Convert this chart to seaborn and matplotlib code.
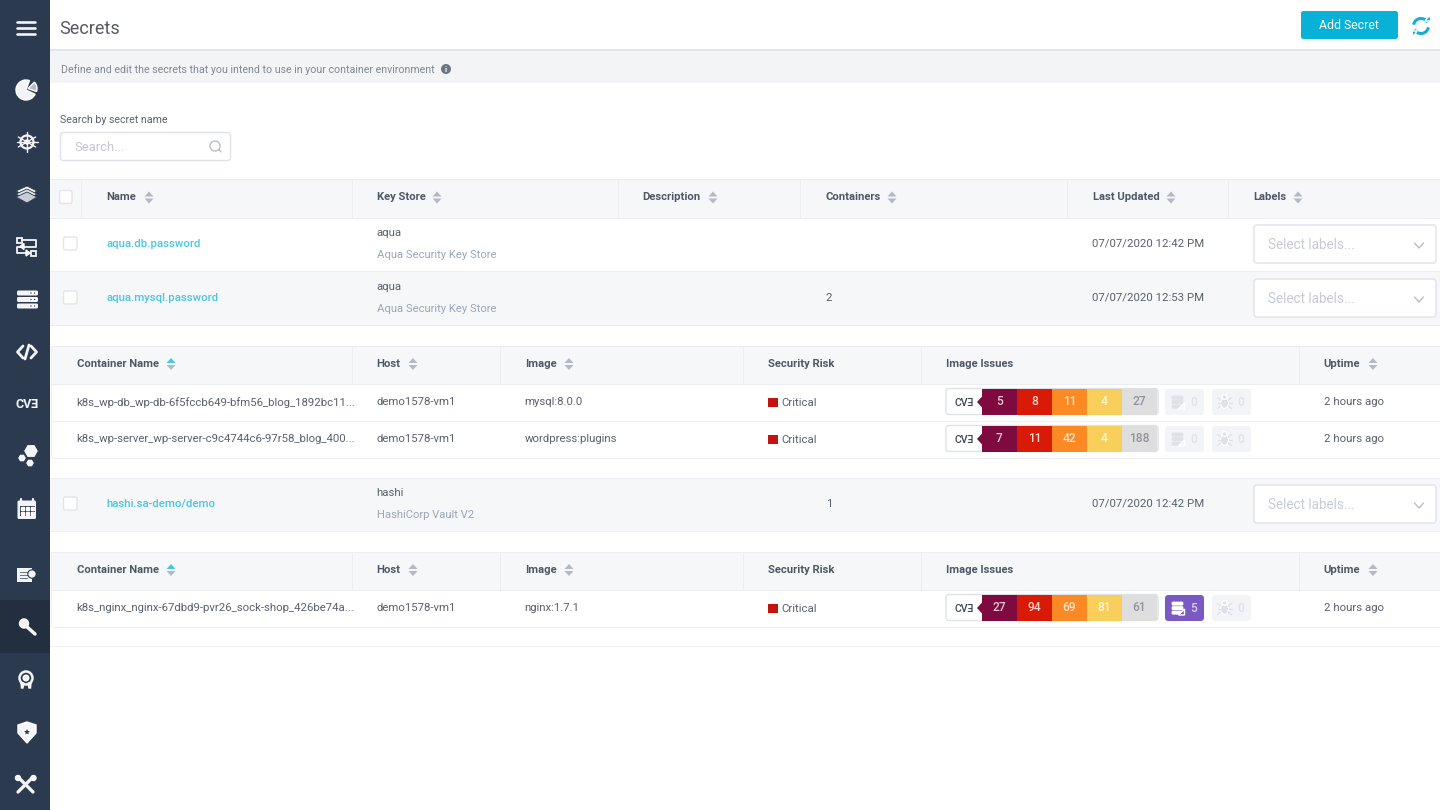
import numpy as np
import pandas as pd
import matplotlib
matplotlib.use("Agg")
import matplotlib.pyplot as plt
from matplotlib.colors import ListedColormap
from matplotlib.patches import FancyBboxPatch, Rectangle, Polygon, Circle, Wedge, Arc, Ellipse
import seaborn as sns

sns.set_theme(style="white")
plt.rcParams["font.family"] = ["Roboto", "DejaVu Sans"]

# ---- content ----
severity_levels = ["Critical", "High", "Medium", "Low", "Negligible"]
severity_colors = ["#7f0a40", "#d91a06", "#fb8a24", "#f8cf5b", "#dedede"]
image_names = ["mysql:8.0.0", "wordpress:plugins", "nginx:1.7.1"]
cve_critical = [5, 7, 27]
cve_high = [8, 11, 94]
cve_medium = [11, 42, 69]
cve_low = [4, 4, 81]
cve_negligible = [27, 188, 61]
malware_counts = [0, 0, 5]
bug_counts = [0, 0, 0]
container_names = ["k8s_wp-db_wp-db-6f5fccb649-bfm56_blog_1892bc11...",
                   "k8s_wp-server_wp-server-c9c4744c6-97r58_blog_400...",
                   "k8s_nginx_nginx-67dbd9-pvr26_sock-shop_426be74a..."]
secret_names = ["aqua.db.password", "aqua.mysql.password", "hashi.sa-demo/demo"]
store_names = ["aqua", "aqua", "hashi"]
store_types = ["Aqua Security Key Store", "Aqua Security Key Store", "HashiCorp Vault V2"]
secret_containers = ["", "2", "1"]
secret_updated = ["07/07/2020 12:42 PM", "07/07/2020 12:53 PM", "07/07/2020 12:42 PM"]
secret_headers = ["Name", "Key Store", "Description", "Containers", "Last Updated", "Labels"]
container_headers = ["Container Name", "Host", "Image", "Security Risk", "Image Issues", "Uptime"]

NAVY = "#2b3a4e"
TEXT = "#59616c"
HEAD = "#4f5866"
MUTED = "#9aa6b8"
CYAN = "#48c6e2"
BAND = "#f6f7f9"
LINE = "#eceef2"
ARROW = "#b4bac4"
BODY = 11.4

fig = plt.figure(figsize=(14.4, 8.1), dpi=100, facecolor="white")
ax = fig.add_axes([0, 0, 1, 1])
ax.set_xlim(0, 1440)
ax.set_ylim(810, 0)
ax.axis("off")


def rect(x0, y0, x1, y1, fc, ec="none", lw=0, z=1):
    ax.add_patch(Rectangle((x0, y0), x1 - x0, y1 - y0, fc=fc, ec=ec, lw=lw, zorder=z))


def rbox(x0, y0, x1, y1, fc, ec="none", lw=1, r=3, z=2):
    ax.add_patch(FancyBboxPatch((x0 + r, y0 + r), x1 - x0 - 2 * r, y1 - y0 - 2 * r,
                                boxstyle=f"round,pad={r},rounding_size={r}",
                                fc=fc, ec=ec, lw=lw, zorder=z))


def txt(x, y, s, px=BODY, c=TEXT, ha="left", w="normal", z=6):
    ax.text(x - 0.6, y + 0.7, s, fontsize=px * 0.72, color=c, ha=ha, va="center",
            fontweight=w, zorder=z, clip_on=False)


def sort_arrows(x, y, active=False):
    up = CYAN if active else ARROW
    ax.add_patch(Polygon([(x - 4.5, y - 1), (x + 4.5, y - 1), (x, y - 6)], fc=up, ec="none", zorder=5))
    ax.add_patch(Polygon([(x - 4.5, y + 1), (x + 4.5, y + 1), (x, y + 6)], fc=ARROW, ec="none", zorder=5))


def chevron(x, y):
    ax.plot([x - 4.5, x, x + 4.5], [y - 2.5, y + 2.5, y - 2.5], color="#b8bec8", lw=1, zorder=5)


# ---- top bar and intro ----
rect(50, 49, 1440, 51, "#e3e6eb")
rect(50, 51, 1440, 83, "#f3f4f6")
txt(60, 28, "Secrets", 18, "#555b63")
txt(62, 68.5, "Define and edit the secrets that you intend to use in your container environment", 10.6, "#808892")
ax.add_patch(Circle((446, 69), 5, fc="#6d7580", ec="none", zorder=5))
txt(446.6, 68.3, "i", 8, "white", ha="center", w="bold")
rbox(1301, 11, 1398, 39, "#08b2d6", r=2.5)
txt(1349.6, 25, "Add Secret", 12.2, "white", ha="center")
ax.add_patch(Arc((1421, 26), 15, 15, theta1=190, theta2=330, ec="#16aed2", lw=2.2, zorder=5))
ax.add_patch(Arc((1421, 26), 15, 15, theta1=10, theta2=150, ec="#16aed2", lw=2.2, zorder=5))
ax.add_patch(Polygon([(1425, 21), (1431, 21), (1430, 15)], fc="#16aed2", zorder=5))
ax.add_patch(Polygon([(1412, 31), (1417, 31), (1413, 37)], fc="#16aed2", zorder=5))

# ---- search ----
txt(60.6, 119.5, "Search by secret name", 10.6, "#5b636d")
rbox(60.5, 132.5, 230.5, 160.5, "white", "#dfe2ea", 1, r=3)
txt(74.6, 146.5, "Search...", 13, "#c3c8d2")
ax.add_patch(Circle((215, 146), 5, fc="none", ec="#b8bec8", lw=1, zorder=5))
ax.plot([218.5, 221], [149.5, 152], color="#b8bec8", lw=1, zorder=5)

# ---- secrets table ----
rect(50, 179, 1440, 218, BAND)
rect(50, 272, 1440, 325, BAND)
rect(50, 478, 1440, 531, BAND)
for y in [179, 218, 271.5, 325, 478, 531, 646.5]:
    rect(50, y - 0.5, 1440, y + 0.8, LINE, z=2)
for x in [81, 352, 618, 800, 1067, 1228]:
    rect(x - 0.5, 179, x + 0.8, 218, "#eceef2", z=2)
head_x = [107, 377, 643, 826, 1093, 1254]
head_arrow = [149, 437, 713, 892, 1171, 1298]
for s, x, ax_x in zip(secret_headers, head_x, head_arrow):
    txt(x + 0.3, 196.8, s, 11.3, HEAD, w="bold")
    sort_arrows(ax_x, 197.5)
rbox(59.5, 190.5, 72, 203.5, "white", "#e2e4ea", 1, r=2)

row_mid = [243.5, 297.5, 503.5]
for i, ym in enumerate(row_mid):
    rbox(63.5, ym - 6.5, 77, ym + 6.5, "white", "#e2e4ea", 1, r=2)
    txt(107.4, ym - 0.4, secret_names[i], 11.4, CYAN, w="medium")
    txt(377.3, ym - 11, store_names[i], BODY, TEXT)
    txt(377.3, ym + 11, store_types[i], 11.25, MUTED)
    if secret_containers[i]:
        txt(826.4, ym - 0.4, secret_containers[i], BODY, TEXT)
    txt(1093, ym - 0.4, secret_updated[i], BODY, TEXT)
    rbox(1254, ym - 18.5, 1436, ym + 19.5, "white", "#dfe2ea", 1, r=3)
    txt(1268.6, ym + 0.6, "Select labels...", 13.5, "#c6cbd4")
    chevron(1419, ym + 2)

# ---- container sub tables ----
sub_head_y = [346, 552]
sub_x = [77, 377, 525, 768, 946, 1324]
sub_arrow = [171, 413, 569, None, None, 1373]
for y0 in sub_head_y:
    rect(52, y0, 1440, y0 + 38, BAND)
    rect(52, y0 - 0.5, 1440, y0 + 0.6, LINE, z=2)
    rect(52, y0 + 38, 1440, y0 + 39, LINE, z=2)
    for x in [352, 500, 743, 921, 1299]:
        rect(x - 0.5, y0, x + 0.8, y0 + 38, "#eceef2", z=2)
    for j, (s, x, a) in enumerate(zip(container_headers, sub_x, sub_arrow)):
        txt(x + 0.3, y0 + 17.3, s, 11.3, HEAD, w="bold")
        if a:
            sort_arrows(a, y0 + 18, active=j == 0)
for y in [421, 458, 627]:
    rect(52, y - 0.5, 1440, y + 0.8, LINE, z=2)
rect(51, 346, 52, 458, LINE, z=2)
rect(51, 552, 52, 627, LINE, z=2)

cmap = ListedColormap(severity_colors)
cve_table = pd.DataFrame({"Critical": cve_critical, "High": cve_high, "Medium": cve_medium,
                          "Low": cve_low, "Negligible": cve_negligible})
container_mid = [402, 439, 608]


def issue_tile(x0, x1, ym, count, kind):
    active = count > 0
    bg = "#7a59c2" if active else "#f3f4f7"
    rbox(x0, ym - 13, x1, ym + 13, bg, r=3.5)
    ic = "white" if active else "#dfe1e7"
    cx = x0 + 12.5
    if kind == "doc":
        for dy in (-5.5, -1, 3.5):
            ax.add_patch(FancyBboxPatch((cx - 5, ym + dy), 10, 2.2,
                                        boxstyle="round,pad=0.9,rounding_size=1.5",
                                        fc=ic, ec="none", zorder=4))
        ax.add_patch(Polygon([(cx + 1, ym + 7), (cx + 7, ym + 1), (cx + 7, ym + 7)], fc=bg, zorder=5))
    else:
        ax.add_patch(Ellipse((cx, ym + 1), 8, 11, fc=ic, zorder=4))
        ax.add_patch(Circle((cx, ym - 5), 2.4, fc=ic, zorder=4))
        for s in (-1, 1):
            ax.plot([cx + s * 4, cx + s * 7], [ym - 2, ym - 4.5], color=ic, lw=1, zorder=4)
            ax.plot([cx + s * 4, cx + s * 7], [ym + 1, ym + 1], color=ic, lw=1, zorder=4)
            ax.plot([cx + s * 4, cx + s * 7], [ym + 4, ym + 6.5], color=ic, lw=1, zorder=4)
    txt(x1 - 9.4, ym, str(count), 12, "#d8cdf0" if active else "#e0e2e8", ha="center", w="medium")


for i, ym in enumerate(container_mid):
    txt(77.3, ym - 0.3, container_names[i], BODY, TEXT)
    txt(377.3, ym - 0.3, "demo1578-vm1", BODY, TEXT)
    txt(525.3, ym - 0.3, image_names[i], BODY, TEXT)
    rect(768, ym - 4.5, 778, ym + 4.5, "#c51310", z=4)
    txt(782.3, ym, "Critical", BODY, TEXT)
    txt(1324.3, ym - 0.3, "2 hours ago", BODY, TEXT)

    # CVE badge
    rbox(946, ym - 13.5, 1158, ym + 12.5, "white", "#dfe1e6", 1, r=3)
    txt(965, ym + 0.3, "CV\u018e", 10.5, "#3a4556", ha="center", w="medium")
    ax.add_patch(Polygon([(982.5, ym - 6), (977, ym), (982.5, ym + 6)],
                         fc=severity_colors[0], ec="none", zorder=5))

    # Severity cells: one heatmap row per image
    cell_ax = fig.add_axes([982 / 1440, 1 - (ym + 12.5) / 810, 175 / 1440, 25.5 / 810], zorder=3)
    row = cve_table.iloc[[i]]
    sns.heatmap(np.arange(5).reshape(1, 5), ax=cell_ax, cmap=cmap, vmin=-0.5, vmax=4.5,
                cbar=False, annot=row.to_numpy(), fmt="d", xticklabels=False, yticklabels=False,
                annot_kws={"fontsize": 12 * 0.72, "fontweight": "medium"})
    for t, col in zip(cell_ax.texts, ["#e5c6d5", "#fbdcd6", "#ffe6cf", "#fff6dc", "#8f949b"]):
        t.set_color(col)

    issue_tile(1165, 1204, ym, malware_counts[i], "doc")
    issue_tile(1212, 1251, ym, bug_counts[i], "bug")

# ---- sidebar ----
rect(0, 0, 50, 810, NAVY, z=8)
rect(0, 600, 50, 653, "#232f3f", z=8)
W = "#f2f4f7"
Z = 9
for y in (22, 28, 34):
    ax.plot([17, 34.5], [y, y], color=W, lw=1.9, zorder=Z, solid_capstyle="round")
# pie
ax.add_patch(Wedge((26, 90), 10, 25, 290, fc=W, zorder=Z))
ax.add_patch(Wedge((28, 88.5), 9, 315, 20, fc="#b6bec8", zorder=Z))
# helm
ax.add_patch(Circle((27, 142), 6.5, fc="none", ec=W, lw=1.6, zorder=Z))
ax.add_patch(Circle((27, 142), 2, fc=W, zorder=Z))
for a in np.deg2rad(np.arange(30, 390, 60)):
    ax.plot([27 + 2 * np.cos(a), 27 + 10 * np.cos(a)], [142 + 2 * np.sin(a), 142 + 10 * np.sin(a)],
            color=W, lw=1.0, zorder=Z)
ax.plot([16.5, 37.5], [142, 142], color=W, lw=1.0, zorder=Z)
# layers
for dy, fc in [(6, "#c7cdd6"), (3, "#dfe3e8"), (0, W)]:
    ax.add_patch(Polygon([(16, 191 + dy), (27, 186 + dy), (37, 191 + dy), (27, 197 + dy)],
                         fc=fc, ec=NAVY, lw=0.6, zorder=Z + dy * 0.01))
# workflow
for (x, y) in [(19, 240), (33, 253)]:
    ax.add_patch(Rectangle((x - 2.5, y - 2.5), 5, 5, fc="none", ec=W, lw=1.3, zorder=Z))
ax.plot([21.5, 36, 36, 17, 17, 30], [240, 240, 246.5, 246.5, 253, 253], color=W, lw=1.3, zorder=Z)
ax.add_patch(Polygon([(24, 243.5), (24, 249.5), (20, 246.5)], fc=W, zorder=Z))
ax.add_patch(Polygon([(26, 250), (26, 256), (30, 253)], fc=W, zorder=Z))
# servers
for y in (293, 299.5, 306):
    ax.add_patch(FancyBboxPatch((18, y - 1.5), 19, 3, boxstyle="round,pad=1,rounding_size=1.5", fc=W, ec="none", zorder=Z))
    ax.add_patch(Circle((31, y), 1.4, fc=NAVY, zorder=Z + 1))
    ax.add_patch(Circle((34.6, y), 1.4, fc=NAVY, zorder=Z + 1))
# code
ax.plot([23, 17.5, 23], [346, 352, 358], color=W, lw=2, zorder=Z)
ax.plot([31, 36.5, 31], [346, 352, 358], color=W, lw=2, zorder=Z)
ax.plot([29, 25], [345, 359], color=W, lw=2, zorder=Z)
# CVE
ax.text(27, 404.5, "CV\u018e", fontsize=9, color=W, fontweight="bold", ha="center", va="center", zorder=Z)
# hexes
for (x, y, r) in [(31, 451, 7.5), (22, 458, 4.5), (30, 463, 4.5)]:
    a = np.deg2rad(np.arange(0, 360, 60))
    ax.add_patch(Polygon(np.c_[x + r * np.cos(a), y + r * np.sin(a)], fc=W, ec=NAVY, lw=0.8, zorder=Z))
# calendar
ax.add_patch(FancyBboxPatch((19, 502), 15.5, 15.5, boxstyle="round,pad=1.5,rounding_size=1.5", fc=W, ec="none", zorder=Z))
rect(19.5, 506, 34.5, 516, NAVY, z=Z + 1)
for x in (20.5, 25.5, 30.5):
    for y in (506.8, 511.5):
        ax.add_patch(Rectangle((x, y), 3.6, 3.6, fc=W, zorder=Z + 2))
for x in (21, 33):
    ax.plot([x, x], [498.5, 503], color=W, lw=1.6, zorder=Z)
# report
rect(17, 568, 32, 582, W, z=Z)
for y in (571.5, 574.5, 577.5):
    rect(19.5, y, 28, y + 1.3, "#6d7888", z=Z + 1)
ax.add_patch(Circle((32, 574), 4.2, fc=W, ec=NAVY, lw=0.8, zorder=Z + 2))
# key
ax.add_patch(Circle((24, 623.5), 4.5, fc=W, zorder=Z))
ax.plot([26, 35], [626, 634], color=W, lw=2.5, zorder=Z)
# award
ax.add_patch(Circle((26, 678), 6.5, fc="none", ec=W, lw=1.8, zorder=Z))
ax.add_patch(Circle((26, 678), 2.8, fc=W, zorder=Z))
ax.add_patch(Polygon([(21, 683), (24, 683), (23, 688), (21.5, 688)], fc=W, zorder=Z))
ax.add_patch(Polygon([(28, 683), (31, 683), (30.5, 688), (29, 688)], fc=W, zorder=Z))
# shield with star
ax.add_patch(Polygon([(18, 725), (27, 722), (36, 725), (36, 733), (27, 743), (18, 733)], fc=W, zorder=Z))
ang = np.deg2rad(np.arange(-90, 270, 36))
rad = np.where(np.arange(10) % 2 == 0, 5.2, 2.2)
ax.add_patch(Polygon(np.c_[27 + rad * np.cos(ang), 732 + rad * np.sin(ang)], fc=NAVY, zorder=Z + 1))
# tools
ax.plot([18, 33], [777, 792], color=W, lw=2.4, zorder=Z)
ax.plot([33, 18], [777, 792], color=W, lw=2.4, zorder=Z)
ax.add_patch(Circle((33.5, 778), 2.5, fc=W, zorder=Z))
ax.add_patch(Circle((18, 778), 2.5, fc=W, zorder=Z))

fig.savefig("out.png", dpi=100, facecolor="white")
